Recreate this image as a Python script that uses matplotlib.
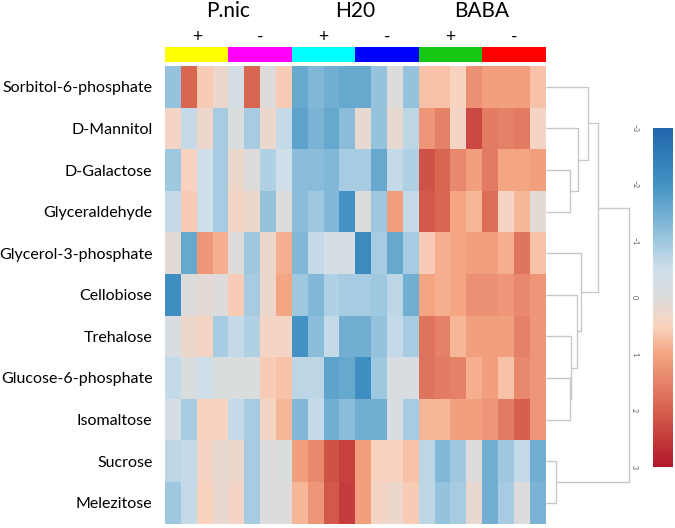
import matplotlib
matplotlib.use("Agg")
import matplotlib.pyplot as plt
import numpy as np
from matplotlib.colors import LinearSegmentedColormap, Normalize
from matplotlib.cm import ScalarMappable

plt.rcParams['font.family'] = ['Lato', 'DejaVu Sans']

rows = ["Sorbitol-6-phosphate", "D-Mannitol", "D-Galactose", "Glyceraldehyde",
        "Glycerol-3-phosphate", "Cellobiose", "Trehalose", "Glucose-6-phosphate",
        "Isomaltose", "Sucrose", "Melezitose"]
groups = ["P.nic", "H20", "BABA"]
signs = ["+", "-", "+", "-", "+", "-"]
sub_colors = ["#ffff00", "#ff00ff", "#00ffff", "#0000ff", "#14c814", "#ff0000"]
cols_per_sub = 4

sorbitol = [-1.1, 1.9, 0.6, 0.3, -0.3, 1.9, 0.0, 0.6, -1.6, -1.3, -1.5, -1.6,
            -1.6, -1.1, 0.0, -1.1, 0.7, 0.7, 0.5, 1.3, 1.1, 1.1, 1.1, 0.7]
mannitol = [0.4, -0.6, 0.3, -0.9, -0.1, -0.9, 0.3, -0.6, -1.7, -1.4, -1.6, -1.2,
            0.2, -1.1, 0.2, -0.7, 1.2, 1.5, 0.4, 2.3, 1.6, 1.5, 1.6, 0.4]
galactose = [-1.0, 0.5, -0.5, -0.9, 0.3, 0.0, -0.8, -0.5, -1.2, -1.2, -1.3, -0.9,
             -0.9, -1.6, -0.6, -0.8, 2.2, 1.9, 1.4, 1.1, 1.6, 1.0, 1.0, 1.1]
glyceraldehyde = [-0.6, 0.6, -0.5, -0.9, 0.4, 0.3, -1.1, 0.0, -1.2, -1.0, -1.3, -2.0,
                  0.0, -1.0, 1.1, -0.6, 2.1, 1.9, 1.0, 0.8, 1.8, 0.4, 0.8, 0.1]
glycerol3p = [0.1, -1.6, 1.2, 0.9, 0.0, -1.0, 0.3, 0.9, -1.3, -0.6, -0.3, -0.3,
              -2.2, -0.9, -1.6, -0.9, 0.6, 0.9, 1.0, 1.1, 1.1, 0.9, 1.7, 0.7]
cellobiose = [-2.1, 0.0, 0.1, 0.0, 0.6, -0.9, 0.3, 1.0, -1.0, -1.3, -0.8, -0.9,
              -0.9, -1.0, -0.7, -1.5, 1.0, 0.9, 1.0, 1.3, 1.3, 1.2, 1.4, 1.2]
trehalose = [-0.2, 0.3, 0.4, -0.9, -0.6, -0.8, 0.4, 0.4, -2.0, -1.2, -0.6, -1.5,
             -1.5, -1.1, -0.6, -0.9, 1.7, 1.5, 0.8, 1.1, 1.1, 1.1, 1.5, 1.2]
glucose6p = [-0.6, -0.1, -0.5, -0.1, -0.1, -0.1, 0.6, 0.7, -0.7, -0.7, -1.7, -1.6,
             -2.1, -1.0, -0.2, -0.2, 1.7, 1.6, 1.5, 0.9, 1.1, 0.7, 1.4, 1.2]
isomaltose = [-0.3, -0.9, 0.5, 0.5, -0.6, -0.9, 0.4, 0.8, -1.3, -0.6, -1.5, -1.2,
              -1.5, -1.5, -0.2, -0.9, 0.8, 0.8, 1.1, 1.1, 1.2, 1.6, 2.0, 1.2]
sucrose = [-0.7, -0.6, 0.4, 0.2, 0.3, -0.9, 0.0, -0.1, 1.1, 1.4, 2.2, 2.4,
           1.1, 0.5, 0.5, 0.7, -0.7, -1.3, -1.0, 0.0, -1.5, -1.0, -0.6, -1.5]
melezitose = [-1.0, -0.6, 0.5, 0.2, 0.4, -0.9, 0.0, 0.0, 0.8, 1.2, 2.1, 2.5,
              1.1, 0.4, 0.3, 0.6, -0.7, -1.1, -0.9, 0.2, -1.5, -0.9, 0.0, -1.4]

data = np.array([sorbitol, mannitol, galactose, glyceraldehyde, glycerol3p, cellobiose,
                 trehalose, glucose6p, isomaltose, sucrose, melezitose])

# dendrogram merges: (left node, right node, height); leaves 0..10, new nodes 11..
merges = [(2, 3, 24.5), (1, 11, 32.5), (0, 12, 42.2), (7, 8, 24.3), (6, 14, 25.0),
          (5, 15, 31.8), (4, 16, 35.5), (13, 17, 52.8), (9, 10, 10.2), (18, 19, 83.8)]

cbar_ticks = [-3, -2, -1, 0, 1, 2, 3]

cmap = LinearSegmentedColormap.from_list("custom", [
    (0.0, "#2166ac"), (1/6, "#4393c3"), (2/6, "#9ec8e0"), (2.5/6, "#cfdfea"),
    (0.5, "#dddcdb"), (3.5/6, "#f9d4c0"), (4/6, "#f4a582"), (5/6, "#d6604d"),
    (1.0, "#b2182b")])
norm = Normalize(vmin=-3, vmax=3)

W, H = 675, 528
fig = plt.figure(figsize=(W / 100, H / 100), dpi=100)

def fax(x0, y0, x1, y1):
    return fig.add_axes([x0 / W, 1 - y1 / H, (x1 - x0) / W, (y1 - y0) / H])

nrow, ncol = data.shape
hx0, hx1, hy0, hy1 = 165, 545.5, 66, 523.6

# heatmap
ax = fax(hx0, hy0, hx1, hy1)
ax.pcolormesh(np.arange(ncol + 1), np.arange(nrow + 1), data, cmap=cmap, norm=norm)
ax.set_xlim(0, ncol)
ax.set_ylim(nrow, 0)
ax.set_xticks([])
ax.set_yticks(np.arange(nrow) + 0.5)
ax.set_yticklabels(rows, fontsize=11.5)
ax.tick_params(axis='y', length=0, pad=9)
for s in ax.spines.values():
    s.set_visible(False)

# annotation strip
sy0, sy1 = 47.3, 62.3
axs = fax(hx0, sy0, hx1, sy1)
nsub = len(sub_colors)
for i, c in enumerate(sub_colors):
    axs.axvspan(i * cols_per_sub, (i + 1) * cols_per_sub, color=c, lw=0)
axs.set_xlim(0, nsub * cols_per_sub)
axs.set_ylim(0, 1)
axs.axis('off')
sh = sy1 - sy0
for i, s in enumerate(signs):
    axs.text((i + 0.5) * cols_per_sub, 1 + (sy0 - 36.7) / sh, s, ha='center', va='center',
             fontsize=12.5, transform=axs.get_xaxis_transform())
for g, name in enumerate(groups):
    axs.text((g + 0.5) * 2 * cols_per_sub, 1 + (sy0 - 17.0) / sh, name, ha='center',
             va='baseline', fontsize=15, transform=axs.get_xaxis_transform())

# dendrogram
axd = fax(hx1, hy0, 631, hy1)
pos = {i: (i + 0.5, 0.0) for i in range(nrow)}
lc = "#c8c8c8"
for k, (a, b, h) in enumerate(merges):
    ya, xa = pos[a]
    yb, xb = pos[b]
    axd.plot([xa, h, h, xb], [ya, ya, yb, yb], color=lc, lw=1.0, solid_capstyle='butt')
    pos[nrow + k] = ((ya + yb) / 2, h)
axd.set_xlim(0, 631 - hx1)
axd.set_ylim(nrow, 0)
axd.axis('off')

# colorbar
cax = fax(653.3, 128, 673.3, 467)
cb = fig.colorbar(ScalarMappable(norm=norm, cmap=cmap), cax=cax)
cb.outline.set_visible(False)
cax.invert_yaxis()
cax.yaxis.set_ticks_position('left')
cb.set_ticks(cbar_ticks)
cax.tick_params(axis='y', length=0, pad=11, labelsize=5, labelcolor="#555555")
for t in cax.get_yticklabels():
    t.set_rotation(-90)
    t.set_va('center')

fig.savefig("out.png", dpi=100)
